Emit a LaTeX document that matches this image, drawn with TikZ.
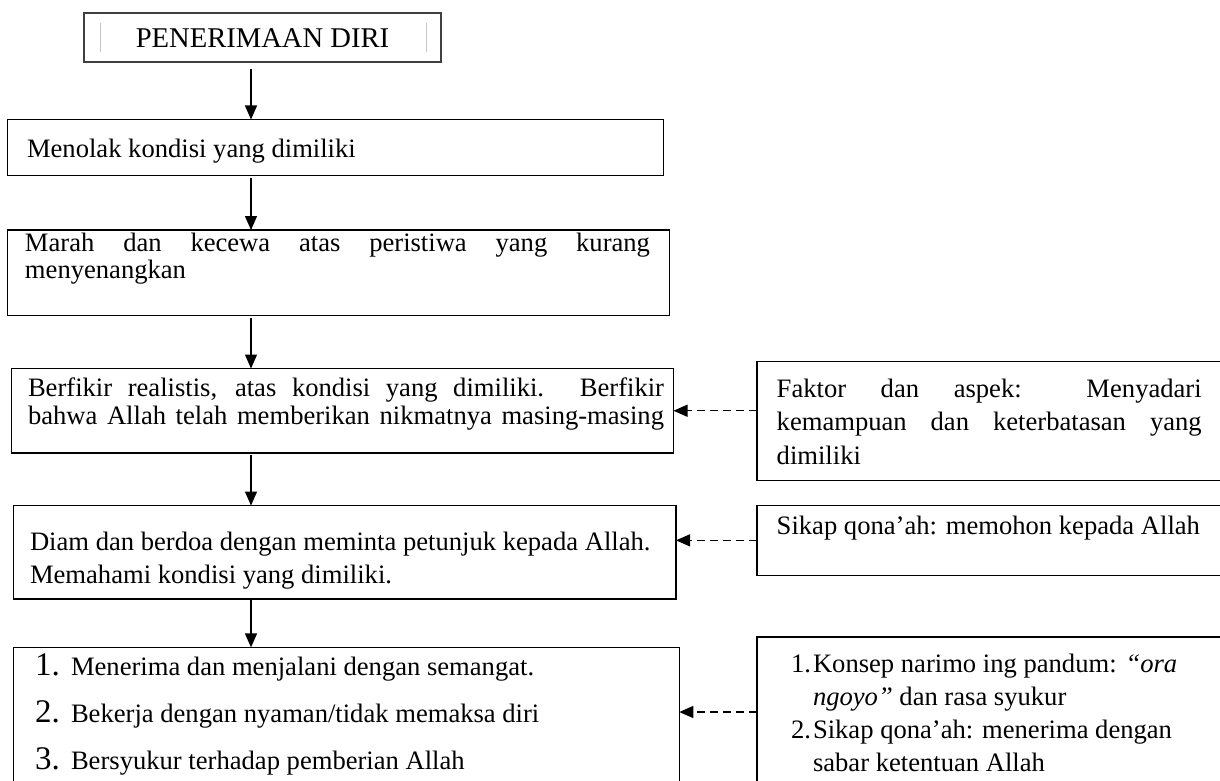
\documentclass[tikz,border=0pt]{standalone}
\usepackage{fontspec}
\setmainfont{Liberation Serif}
\usetikzlibrary{arrows.meta}
\begin{document}
\begin{tikzpicture}[x=0.5pt,y=-0.5pt,
  every node/.style={inner sep=0pt, outer sep=0pt},
  txt/.style={font=\fontsize{13.3}{16}\selectfont, anchor=base west},
  numtxt/.style={font=\fontsize{16.5}{18}\selectfont, anchor=base west},
  frame/.style={draw, line width=0.65pt, anchor=north west, inner sep=0pt, outer sep=0pt},
  flow/.style={line width=0.65pt, -{Triangle[length=7pt,width=6pt]}},
  dflow/.style={line width=0.65pt, dash pattern=on 4pt off 2.5pt, -{Triangle[length=7pt,width=6pt]}},
]
\useasboundingbox (0,0) rectangle (1220,781);
\clip (0,0) rectangle (1220,781);
\fill[white] (0,0) rectangle (1220,781);

% ---- main column boxes
\node[frame, draw=black!75, line width=1pt, minimum width=178.5pt, minimum height=24.8pt] (top) at (84,12.7) {};
\node[txt, font=\fontsize{14.3}{17}\selectfont, anchor=base] (ttop) at (262.5,48) {PENERIMAAN DIRI};
\draw[black!22, line width=0.5pt] (100.7,23.3) -- (100.7,51.7) (426.7,23.3) -- (426.7,51.7);

\node[frame, minimum width=328pt, minimum height=28pt] (b2) at (7.3,119.5) {};
\node[txt] (t2) at (27,157) {Menolak kondisi yang dimiliki};

\node[frame, minimum width=331pt, minimum height=42.75pt] (b3) at (7.3,230) {};
\node[txt] (t3a) at (25,251) {\hbox to 312.5pt{Marah dan kecewa atas peristiwa yang kurang}};
\node[txt] (t3b) at (25,278) {menyenangkan};

\node[frame, minimum width=331pt, minimum height=42.25pt] (b4) at (11.5,368.5) {};
\node[txt] (t4a) at (28,396) {\hbox to 318pt{Berfikir realistis, atas kondisi yang dimiliki. Berfikir}};
\node[txt] (t4b) at (28,424) {\hbox to 318pt{bahwa Allah telah memberikan nikmatnya masing-masing}};

\node[frame, minimum width=331.25pt, minimum height=46.75pt] (b5) at (13.5,505.5) {};
\node[txt] (t5a) at (30,550) {Diam dan berdoa dengan meminta petunjuk kepada Allah.};
\node[txt] (t5b) at (30,583) {Memahami kondisi yang dimiliki.};

\node[frame, minimum width=332.9pt, minimum height=76.3pt] (b6) at (13.5,647.4) {};
\node[numtxt] (n6a) at (35,675) {1.};
\node[txt] (t6a) at (71,675) {Menerima dan menjalani dengan semangat.};
\node[numtxt] (n6b) at (35,722) {2.};
\node[txt] (t6b) at (71,722) {Bekerja dengan nyaman/tidak memaksa diri};
\node[numtxt] (n6c) at (35,769) {3.};
\node[txt] (t6c) at (71,769) {Bersyukur terhadap pemberian Allah};

% ---- right column boxes
\node[frame, minimum width=241.5pt, minimum height=59.55pt] (r1) at (757,361.5) {};
\node[txt] (u1a) at (776.7,397) {\hbox to 212.5pt{Faktor dan aspek: Menyadari}};
\node[txt] (u1b) at (776.7,430) {\hbox to 212.5pt{kemampuan dan keterbatasan yang}};
\node[txt] (u1c) at (776.7,464) {dimiliki};

\node[frame, minimum width=241.5pt, minimum height=34.85pt] (r2) at (757,505.5) {};
\node[txt] (u2a) at (776.7,534) {Sikap qona’ah: memohon kepada Allah};

\node[frame, minimum width=241.5pt, minimum height=81.5pt] (r3) at (757,637) {};
\node[txt] (m3a) at (791,672) {1.};
\node[txt] (u3a) at (813,672) {Konsep narimo ing pandum: \textit{“ora}};
\node[txt] (u3b) at (813,705) {\textit{ngoyo”} dan rasa syukur};
\node[txt] (m3b) at (791,738) {2.};
\node[txt] (u3c) at (813,738) {Sikap qona’ah: menerima dengan};
\node[txt] (u3d) at (813,771) {sabar ketentuan Allah};

% ---- connectors
\coordinate (ax) at (251,0);
\coordinate (dy3) at (0,712);
\draw[flow, shorten <=3.5pt] (top.south -| ax) -- (b2.north -| ax);
\draw[flow, shorten <=1pt] (b2.south -| ax) -- (b3.north -| ax);
\draw[flow, shorten <=1pt] (b3.south -| ax) -- (b4.north -| ax);
\draw[flow, shorten <=1pt] (b4.south -| ax) -- (b5.north -| ax);
\draw[flow] (b5.south -| ax) -- (b6.north -| ax);

\draw[dflow] (r1.west |- b4.east) -- (b4.east);
\draw[dflow] (r2.west) -- (r2.west -| b5.east);
\draw[dflow] (r3.west |- dy3) -- (b6.east |- dy3);
\end{tikzpicture}
\end{document}
